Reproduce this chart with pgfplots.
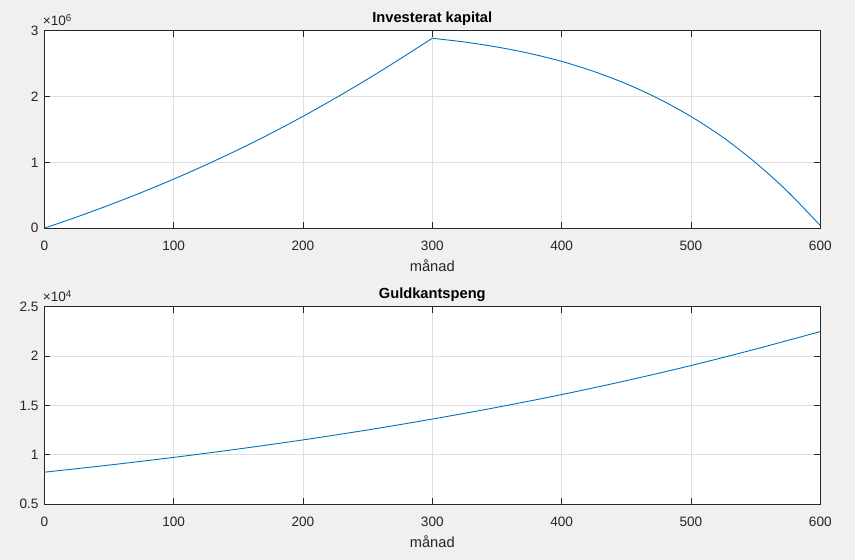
\documentclass[border=0pt]{standalone}
\usepackage{fontspec}
\setmainfont{Liberation Sans}
\usepackage{pgfplots}
\pgfplotsset{compat=1.18}
\definecolor{mblue}{HTML}{0072BD}
\definecolor{maxis}{HTML}{262626}
\definecolor{mgrid}{HTML}{DFDFDF}
\definecolor{mbg}{HTML}{F0F0F0}
\pgfplotsset{mstyle/.style={
  scale only axis, width=776pt, height=197.5pt,
  xmin=0, xmax=600, xtick={0,100,...,600},
  grid=major, major grid style={mgrid, line width=0.8pt},
  axis line style={maxis, line width=0.9pt},
  tick style={maxis, line width=0.9pt},
  major tick length=6pt, tick align=inside,
  xtick pos=both, ytick pos=both,
  ticklabel style={font=\fontsize{13.6}{15}\selectfont, text=maxis},
  /pgf/number format/assume math mode=true,
  xticklabel style={anchor=north, yshift=-9.5pt},
  yticklabel style={anchor=east, xshift=-2.3pt},
  xlabel style={font=\fontsize{14.67}{17}\selectfont, text=maxis, at={(axis description cs:0.5,0)}, anchor=base, yshift=-43pt},
  title style={font=\bfseries\fontsize{14.67}{17}\selectfont, text=black, at={(axis description cs:0.5,1)}, anchor=base, yshift=2.5pt},
  axis background/.style={fill=white},
  every y tick scale label/.style={at={(axis description cs:0,1)}, anchor=base west, inner sep=0pt, xshift=0.7pt, yshift=5pt, font=\fontsize{13.6}{15}\selectfont, text=maxis},
}}
\begin{document}
\begin{tikzpicture}
\fill[mbg] (0pt,0pt) rectangle (855pt,560pt);
\begin{axis}[mstyle, at={(44.3pt,529.3pt)}, anchor=north west,
  ymin=0, ymax=3000000, ytick={0,1000000,2000000,3000000},
  scaled y ticks=base 10:-6,
  ytick scale label code/.code={×10\raisebox{0.6ex}{\fontsize{9.8}{10}\selectfont 6}},
  title={Investerat kapital}, xlabel={månad}]
\addplot[mblue, line width=0.9pt, smooth] coordinates {
(0,0) (25,169400) (50,349700) (75,541400) (100,745400) (125,962300)
(150,1193000) (175,1438000) (200,1699000) (225,1975000) (250,2265000)
(275,2570000) (300,2885000)};
\addplot[mblue, line width=0.9pt, smooth] coordinates {
(300,2885000) (325,2828000) (350,2752000) (375,2656000) (400,2534000)
(425,2380000) (450,2193000) (475,1967000) (500,1697000) (525,1377000)
(550,995000) (575,552000) (600,40000)};
\end{axis}
\begin{axis}[mstyle, at={(44.3pt,253.3pt)}, anchor=north west,
  ymin=5000, ymax=25000, ytick={5000,10000,15000,20000,25000},
  scaled y ticks=base 10:-4,
  ytick scale label code/.code={×10\raisebox{0.6ex}{\fontsize{9.8}{10}\selectfont 4}},
  title={Guldkantspeng}, xlabel={månad}]
\addplot[mblue, line width=0.9pt, smooth] coordinates {
(0,8240) (50,8960) (100,9740) (150,10590) (200,11510) (250,12520)
(300,13620) (350,14810) (400,16100) (450,17510) (500,19040)
(550,20710) (600,22480)};
\end{axis}
\pgfresetboundingbox
\useasboundingbox (0pt,0pt) rectangle (855pt,560pt);
\end{tikzpicture}
\end{document}
